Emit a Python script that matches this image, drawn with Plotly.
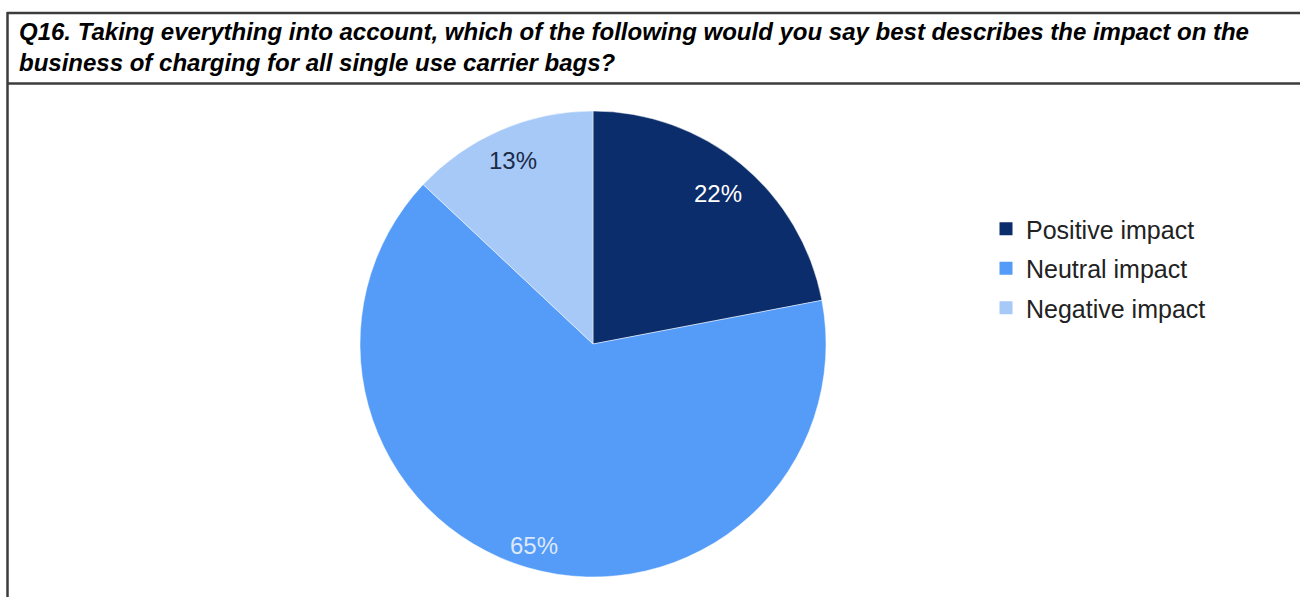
import math
import plotly.graph_objects as go

# Survey responses (share of businesses, %)
categories = ["Positive impact", "Neutral impact", "Negative impact"]
shares = [22, 65, 13]

colors = ["#0b2d6b", "#559bf8", "#a6c9f8"]
label_colors = ["#ffffff", "#dbe9fb", "#1b2a47"]
label_radius = [0.84, 0.90, 0.86]   # label distance from centre, as a fraction of the radius

title_text = ("Q16. Taking everything into account, which of the following would you say best describes the impact on the<br>"
              "business of charging for all single use carrier bags?")

W, H = 1300, 597
FONT = "Liberation Sans, Arial"

# pie placement in pixels
cx, cy, R = 593, 344, 233
dom_x = [(cx - R) / W, (cx + R) / W]
dom_y = [1 - (cy + R) / H, 1 - (cy - R) / H]

fig = go.Figure()
fig.add_trace(go.Pie(
    labels=categories, values=shares, sort=False, direction="clockwise", rotation=0,
    marker=dict(colors=colors, line=dict(color="rgba(255,255,255,0.6)", width=0.8)),
    textinfo="none", hoverinfo="label+percent", showlegend=False,
    domain=dict(x=dom_x, y=dom_y),
))

# legend entries
for i, (name, col) in enumerate(zip(categories, colors)):
    fig.add_trace(go.Scatter(
        x=[None], y=[None], mode="markers", name=name, legendgroup=f"g{i}",
        marker=dict(symbol="square", size=13, color=col),
    ))

# percentage labels at each slice's mid-angle
annotations = []
total = sum(shares)
start = 0.0
for v, rf, tc in zip(shares, label_radius, label_colors):
    mid = (start + v / 2) / total * 2 * math.pi
    start += v
    px = cx + rf * R * math.sin(mid)
    py = cy - rf * R * math.cos(mid)
    annotations.append(dict(
        x=px / W, y=1 - py / H, xref="paper", yref="paper", showarrow=False,
        text=f"{v}%", font=dict(family=FONT, size=24, color=tc),
        xanchor="center", yanchor="middle",
    ))

# question heading
annotations.append(dict(
    x=17 / W, y=1 - 47 / H, xref="paper", yref="paper", showarrow=False,
    text=f"<b><i>{title_text}</i></b>", align="left", xanchor="left", yanchor="middle",
    font=dict(family=FONT, size=24, color="#000000"),
))

border = dict(color="#3c3c3c", width=2.5)
shapes = [
    dict(type="line", xref="paper", yref="paper", x0=7 / W, x1=1.01, y0=1 - 13 / H, y1=1 - 13 / H, line=border),
    dict(type="line", xref="paper", yref="paper", x0=7 / W, x1=1.01, y0=1 - 83.5 / H, y1=1 - 83.5 / H, line=border),
    dict(type="line", xref="paper", yref="paper", x0=7.5 / W, x1=7.5 / W, y0=-0.02, y1=1 - 12 / H, line=border),
]

fig.update_layout(
    width=W, height=H, margin=dict(l=0, r=0, t=0, b=0),
    paper_bgcolor="white", plot_bgcolor="white",
    xaxis=dict(visible=False), yaxis=dict(visible=False),
    showlegend=True,
    legend=dict(
        x=986 / W, y=1 - 206 / H, xanchor="left", yanchor="top",
        font=dict(family=FONT, size=25, color="#222222"),
        tracegroupgap=4, bgcolor="rgba(0,0,0,0)", itemclick=False,
    ),
    annotations=annotations, shapes=shapes,
)

fig.write_html("out.html")
